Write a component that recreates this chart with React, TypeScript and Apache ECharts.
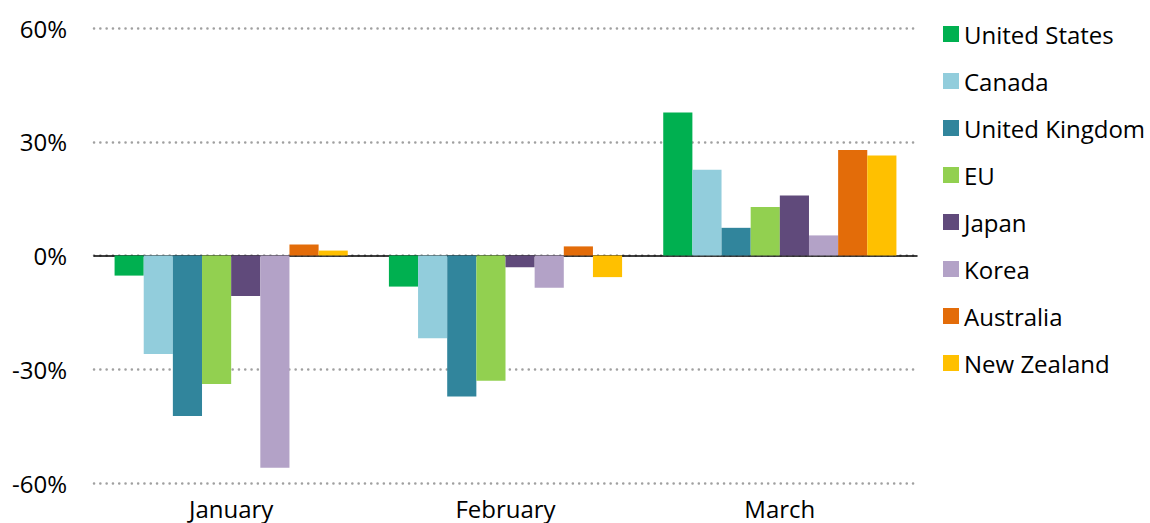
import React, { useEffect, useRef } from "react";
import * as echarts from "echarts";

const categories = ["January", "February", "March"];
const seriesNames = ["United States", "Canada", "United Kingdom", "EU", "Japan", "Korea", "Australia", "New Zealand"];
const colors = ["#00B050", "#92CDDC", "#31859C", "#92D050", "#604A7B", "#B3A2C7", "#E36C09", "#FFC000"];
const unitedStates = [-5.3, -8.2, 37.7];
const canada = [-26.0, -21.8, 22.6];
const unitedKingdom = [-42.3, -37.2, 7.3];
const eu = [-33.9, -33.0, 12.8];
const japan = [-10.7, -3.1, 15.8];
const korea = [-56.0, -8.5, 5.3];
const australia = [2.9, 2.4, 27.8];
const newZealand = [1.3, -5.7, 26.4];
const seriesValues = [unitedStates, canada, unitedKingdom, eu, japan, korea, australia, newZealand];

const FONT = "'Open Sans', 'Noto Sans', sans-serif";

export default function App() {
  const ref = useRef<HTMLDivElement>(null);
  useEffect(() => {
    if (!ref.current) return;
    const chart = echarts.init(ref.current, null, { renderer: "svg" });
    chart.setOption({
      animation: false,
      backgroundColor: "#fff",
      grid: { left: 94, right: 233, top: 28, bottom: 40 },
      legend: {
        orient: "vertical",
        left: 938,
        top: 17,
        itemWidth: 16,
        itemHeight: 16,
        itemGap: 23,
        icon: "rect",
        textStyle: { fontFamily: FONT, fontSize: 24, color: "#000", lineHeight: 24 },
        data: seriesNames,
      },
      xAxis: [
        {
          type: "category",
          data: categories,
          position: "bottom",
          axisLine: { show: false, onZero: false },
          axisTick: { show: false },
          axisLabel: { fontFamily: FONT, fontSize: 24, color: "#000", margin: 13 },
        },
        {
          type: "category",
          data: categories,
          axisLine: { show: true, onZero: true, lineStyle: { color: "#000", width: 1.5 } },
          axisTick: { show: false },
          axisLabel: { show: false },
        },
      ],
      yAxis: {
        type: "value",
        min: -60,
        max: 60,
        interval: 30,
        axisLine: { show: false },
        axisTick: { show: false },
        axisLabel: {
          formatter: "{value}%",
          fontFamily: FONT,
          fontSize: 24,
          color: "#000",
          margin: 27,
        },
        splitLine: { lineStyle: { color: "#a0a0a0", width: 2.5, type: [0.1, 6.2], cap: "round" } },
      },
      series: seriesNames.map((name, i) => ({
        name,
        type: "bar",
        data: seriesValues[i],
        itemStyle: { color: colors[i] },
        barGap: "0%",
        barCategoryGap: "15%",
        xAxisIndex: 0,
      })),
    });
    return () => chart.dispose();
  }, []);
  return <div ref={ref} style={{ width: 1150, height: 523, position: "absolute", left: 0, top: 0 }} />;
}
